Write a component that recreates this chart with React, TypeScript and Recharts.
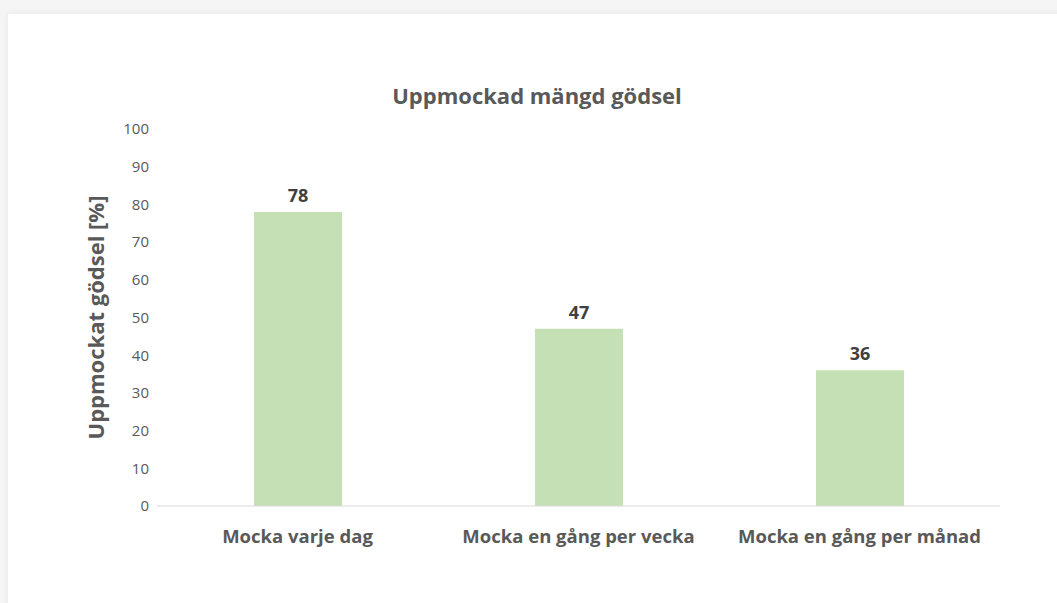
import React from "react";
import { BarChart, Bar, XAxis, YAxis, LabelList } from "recharts";

const categories = ["Mocka varje dag", "Mocka en gång per vecka", "Mocka en gång per månad"];
const values = [78, 47, 36];
const yTicks = [0, 10, 20, 30, 40, 50, 60, 70, 80, 90, 100];

const data = categories.map((name, i) => ({ name, value: values[i] }));

const FONT = "'Open Sans', 'Noto Sans', sans-serif";
const GREY = "#595959";

export default function App() {
  return (
    <div
      style={{
        position: "fixed",
        left: 0,
        top: 0,
        width: 1057,
        height: 603,
        background: "#f5f5f5",
        overflow: "hidden",
        fontFamily: FONT,
      }}
    >
      <div
        style={{
          position: "absolute",
          left: 8,
          top: 14,
          width: 1060,
          height: 600,
          background: "#fff",
          boxShadow: "0 0 6px rgba(0,0,0,0.07)",
        }}
      >
        {/* chart title */}
        <div
          style={{
            position: "absolute",
            left: 0,
            width: 1058,
            top: 66,
            textAlign: "center",
            fontSize: 22,
            fontWeight: 700,
            color: GREY,
          }}
        >
          Uppmockad mängd gödsel
        </div>
        <BarChart
          width={1049}
          height={589}
          data={data}
          margin={{ top: 115, right: 57, left: 80, bottom: 50 }}
        >
          <XAxis
            dataKey="name"
            axisLine={{ stroke: "#d9d9d9" }}
            tickLine={false}
            height={47}
            tickMargin={18}
            tick={{ fontSize: 18.5, fontWeight: 700, fill: GREY, fontFamily: FONT }}
          />
          <YAxis
            width={69}
            domain={[0, 100]}
            ticks={yTicks}
            axisLine={false}
            tickLine={false}
            tick={{ fontSize: 15, fill: GREY, fontFamily: FONT }}
            label={{
              value: "Uppmockat gödsel [%]",
              angle: -90,
              position: "insideLeft",
              offset: 8,
              style: { textAnchor: "middle", fontSize: 22, fontWeight: 700, fill: GREY, fontFamily: FONT },
            }}
          />
          <Bar dataKey="value" fill="#c5e0b4" barSize={88} isAnimationActive={false}>
            <LabelList
              dataKey="value"
              position="top"
              offset={10}
              style={{ fontSize: 18, fontWeight: 700, fill: "#404040", fontFamily: FONT }}
            />
          </Bar>
        </BarChart>
      </div>
    </div>
  );
}
